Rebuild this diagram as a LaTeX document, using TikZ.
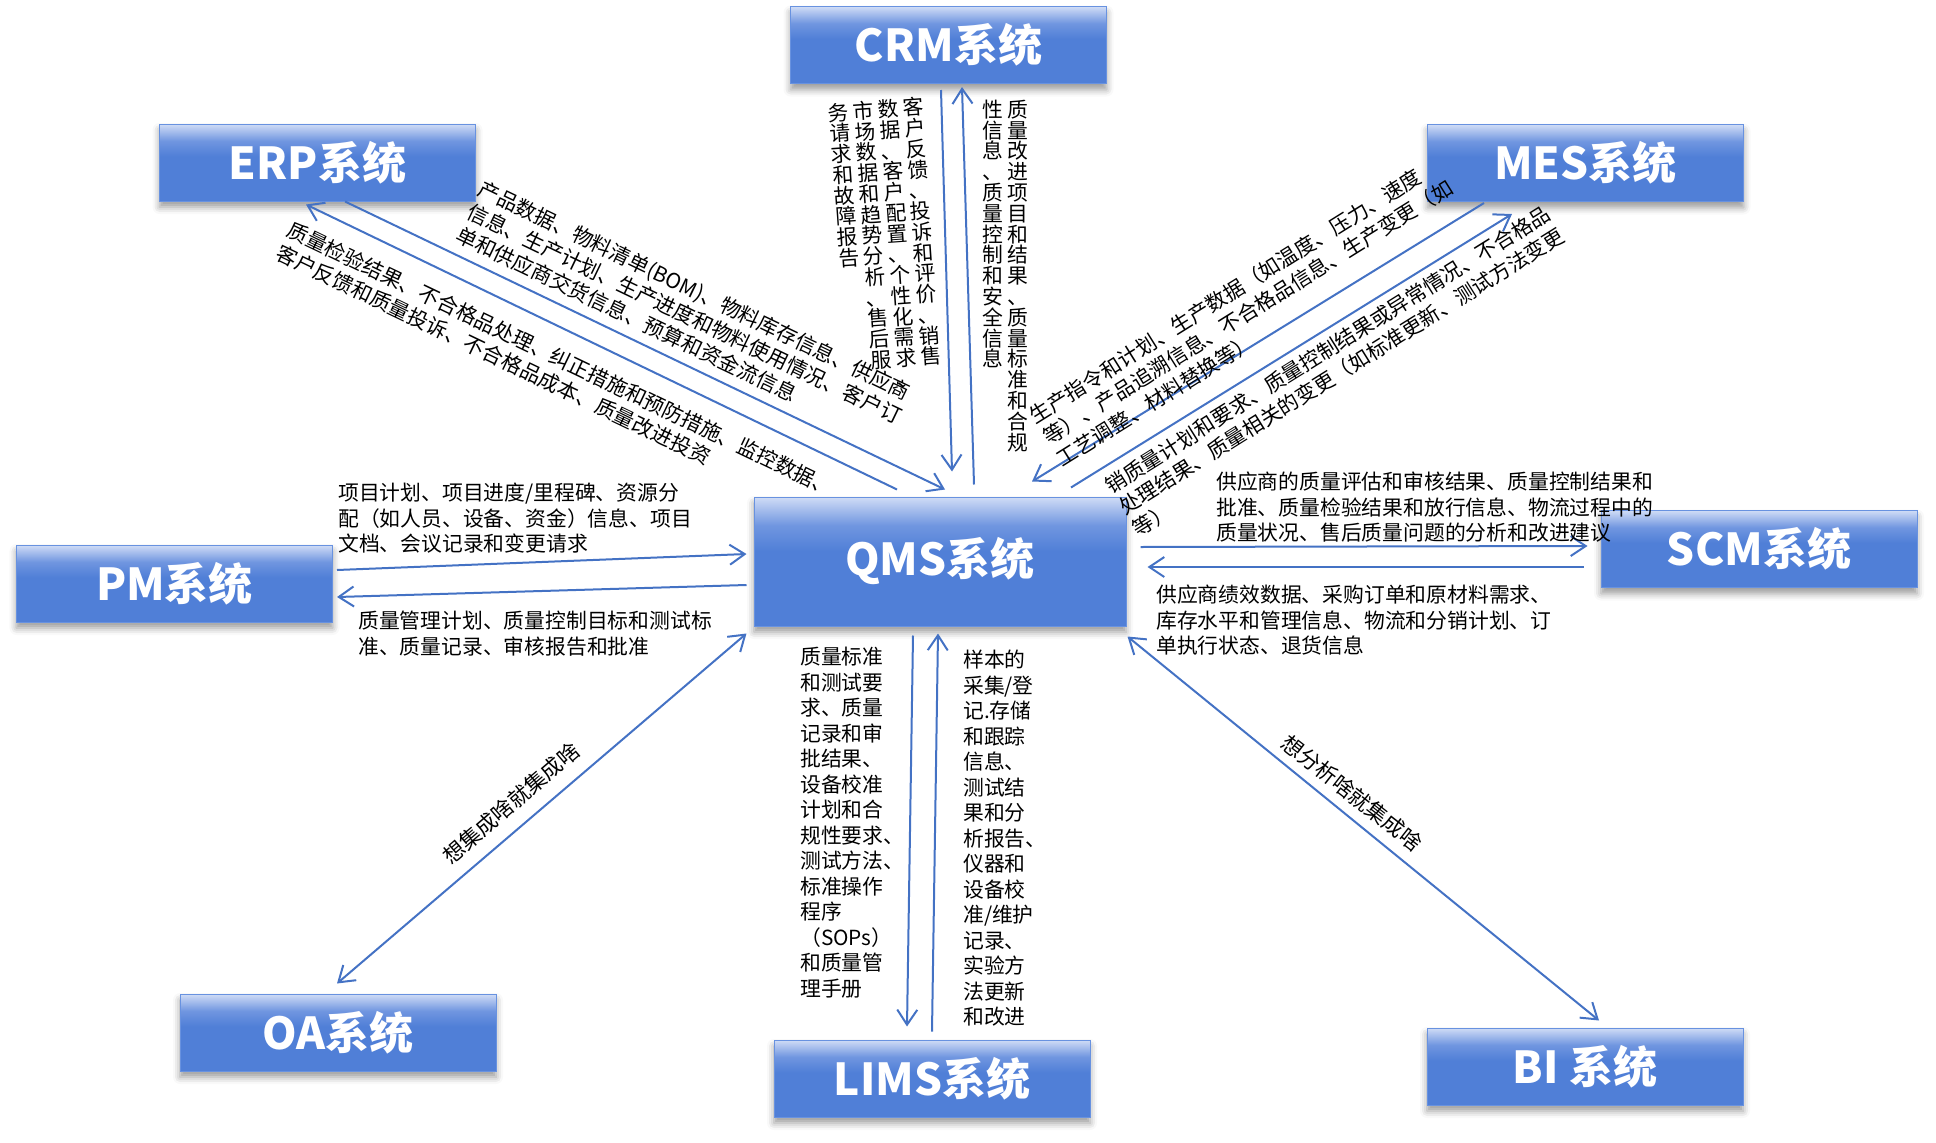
\documentclass[tikz,border=0pt]{standalone}
\usepackage{fontspec}
\setmainfont{Noto Sans CJK SC}
\usetikzlibrary{arrows.meta,calc,shadows.blur}

\definecolor{bxt}{RGB}{208,220,246}
\definecolor{bxm}{RGB}{112,150,224}
\definecolor{bxb}{RGB}{80,127,215}
\definecolor{bxd}{RGB}{104,146,224}
\definecolor{arr}{RGB}{68,114,196}
\pgfdeclareverticalshading{boxshade}{100bp}{color(0bp)=(bxb); color(25bp)=(bxb); color(54bp)=(bxb); color(64bp)=(bxm); color(75bp)=(bxt); color(100bp)=(bxt)}

\newcommand\lblf{\fontsize{20.8}{25.5}\selectfont}
\newcommand\ttlf{\fontsize{44}{50}\selectfont\bfseries}
\newlength\cjw \setlength\cjw{20.8pt}
\def\vcolA#1{\ifx\relax#1\else\hbox to\cjw{\hss#1\hss}\expandafter\vcolA\fi}
\newcommand\vcol[1]{\vtop{\baselineskip=20.8pt\lineskiplimit=-30pt\lineskip=0pt\vcolA#1\relax}}
\newcommand\tlines[4]{%
  \begin{scope}[shift={#2},rotate=#3]
    \foreach \tx [count=\i] in {#4}
      \node[lbl,rotate=#3,anchor=west] (#1\i) at (0,{(\i-1)*25.5}) {\tx};
  \end{scope}}

\begin{document}
\begin{tikzpicture}[x=1pt,y=-1pt,
  sysbox/.style={shading=boxshade, draw=bxd, line width=1pt,
    minimum width=316pt, minimum height=77pt, inner sep=0pt,
    text=white, font=\ttlf,
    blur shadow={shadow xshift=0pt, shadow yshift=-6pt, shadow blur radius=7pt, shadow opacity=40}},
  flow/.style={draw=arr, line width=2pt, -{Straight Barb[length=15pt,width=20pt]}},
  dflow/.style={draw=arr, line width=2pt, {Straight Barb[length=15pt,width=20pt]}-{Straight Barb[length=15pt,width=20pt]}},
  lbl/.style={inner sep=0pt, font=\lblf, text height=18.3pt, text depth=2.5pt},
  vlbl/.style={inner sep=0pt, font=\lblf},
]
\useasboundingbox (0,0) rectangle (1936,1143);

% system boxes
\node[sysbox] (crm) at (948.5,45) {CRM系统};
\node[sysbox] (erp) at (317.5,162.5) {ERP系统};
\node[sysbox] (mes) at (1585.5,163) {MES系统};
\node[sysbox] (pm) at (174.5,583.5) {PM系统};
\node[sysbox, minimum width=372pt, minimum height=129pt] (qms) at (940,561.5) {QMS系统};
\node[sysbox] (scm) at (1759,549) {SCM系统};
\node[sysbox] (oa) at (338,1032.5) {OA系统};
\node[sysbox] (lims) at (932,1078.5) {LIMS系统};
\node[sysbox] (bi) at (1585,1066.5) {BI 系统};

% connectors
\draw[flow] ($(crm.south)+(-7.5,6)$) -- ($(qms.north)+(12,-25)$);
\draw[flow] ($(qms.north)+(34,-12)$) -- ($(crm.south)+(13.5,3)$);
\draw[flow] ($(erp.south)+(27.5,0)$) -- ($(qms.north)+(5,-7)$);
\draw[flow] ($(qms.north)+(-43,-7)$) -- ($(erp.south)+(-11.5,3)$);
\draw[flow] ($(mes.south)+(-101.5,1)$) -- ($(qms.north)+(92,-15)$);
\draw[flow] ($(qms.north)+(131,-9)$) -- ($(mes.south)+(-73.5,12)$);
\draw[flow] ($(pm.east)+(4,-13.5)$) -- ($(qms.west)+(-7,-7.5)$);
\draw[flow] ($(qms.west)+(-7,23.5)$) -- ($(pm.east)+(4,13.5)$);
\draw[flow] ($(qms.east)+(14,-14.5)$) -- ($(scm.west)+(-13,-3)$);
\draw[flow] ($(scm.west)+(-17,18)$) -- ($(qms.east)+(21,5.5)$);
\draw[flow] ($(qms.south)+(-27,9)$) -- ($(lims.north)+(-25,-13)$);
\draw[flow] ($(lims.north)+(0,-8)$) -- ($(qms.south)+(-2,7)$);
\draw[dflow] ($(qms.south west)+(-7,7)$) -- ($(oa.north)+(-1,-10)$);
\draw[dflow] ($(qms.south east)+(1,10)$) -- ($(bi.north)+(14,-7)$);

% CRM labels (vertical text)
\node[vlbl, rotate=4, anchor=north east] (crml) at (923.4,96.6)
  {\vcol{务请求和故障报告}\hspace{4.2pt}\vcol{市场数据和趋势分析、售后服}\hspace{4.2pt}\vcol{数据、客户配置、个性化需求、}\hspace{4.2pt}\vcol{客户反馈、投诉和评价、销售}};
\node[vlbl, anchor=north east] (crmr) at (1028.4,99.6)
  {\vcol{性信息、质量控制和安全信息}\hspace{4.2pt}\vcol{质量改进项目和结果、质量标准和合规}};

% ERP labels
\tlines{erpa}{(479.6,187.5)}{-25.6}{{产品数据、物料清单(BOM)、物料库存信息、供应商},{信息、生产计划、生产进度和物料使用情况、客户订},{单和供应商交货信息、预算和资金流信息}}
\tlines{erpb}{(288.6,228.5)}{-25.6}{{质量检验结果、不合格品处理、纠正措施和预防措施、监控数据、},{客户反馈和质量投诉、不合格品成本、质量改进投资}}

% MES labels
\tlines{mesa}{(1031.2,417.5)}{32}{{生产指令和计划、生产数据（如温度、压力、速度},{等）、产品追溯信息、不合格品信息、生产变更（如},{工艺调整、材料替换等）}}
\tlines{mesb}{(1107.2,487.5)}{32}{{销质量计划和要求、质量控制结果或异常情况、不合格品},{处理结果、质量相关的变更（如标准更新、测试方法变更},{等）}}

% PM labels
\tlines{pma}{(338,493)}{0}{{项目计划、项目进度/里程碑、资源分},{配（如人员、设备、资金）信息、项目},{文档、会议记录和变更请求}}
\tlines{pmb}{(358,621)}{0}{{质量管理计划、质量控制目标和测试标},{准、质量记录、审核报告和批准}}

% SCM labels
\tlines{scma}{(1216,482)}{0}{{供应商的质量评估和审核结果、质量控制结果和},{批准、质量检验结果和放行信息、物流过程中的},{质量状况、售后质量问题的分析和改进建议}}
\tlines{scmb}{(1156,595)}{0}{{供应商绩效数据、采购订单和原材料需求、},{库存水平和管理信息、物流和分销计划、订},{单执行状态、退货信息}}

% LIMS labels
\tlines{limsa}{(800,657)}{0}{{质量标准},{和测试要},{求、质量},{记录和审},{批结果、},{设备校准},{计划和合},{规性要求、},{测试方法、},{标准操作},{程序},{（SOPs）},{和质量管},{理手册}}
\tlines{limsb}{(963,660)}{0}{{样本的},{采集/登},{记.存储},{和跟踪},{信息、},{测试结},{果和分},{析报告、},{仪器和},{设备校},{准/维护},{记录、},{实验方},{法更新},{和改进}}

% OA / BI labels
\node[inner sep=0pt, font=\fontsize{21.5}{25}\selectfont, rotate=40.6] (oalbl) at (511,803) {想集成啥就集成啥};
\node[inner sep=0pt, font=\fontsize{21.5}{25}\selectfont, rotate=-38] (bilbl) at (1352,793) {想分析啥就集成啥};
\end{tikzpicture}
\end{document}
